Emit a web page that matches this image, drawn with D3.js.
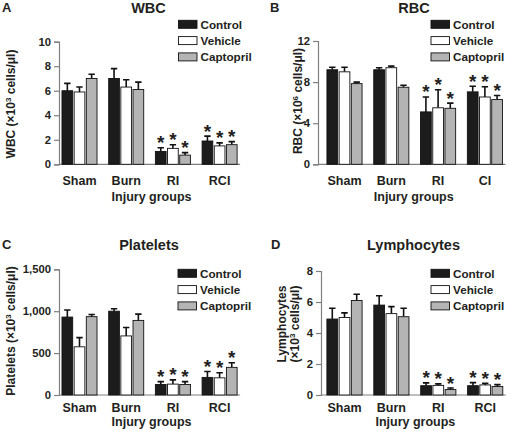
<!DOCTYPE html>
<html><head><meta charset="utf-8">
<script src="https://cdn.jsdelivr.net/npm/d3@7"></script>
<style>body{margin:0;background:#fff}svg{display:block}text{font-family:Arial,"Liberation Sans",sans-serif;font-weight:bold;fill:#231f20}</style>
</head><body>
<svg id="c" width="510" height="431"></svg>
<script>
const series = ["Control", "Vehicle", "Captopril"];
const groupsA = ["Sham", "Burn", "RI", "RCI"];
const groupsB = ["Sham", "Burn", "RI", "CI"];
const groupsC = ["Sham", "Burn", "RI", "RCI"];
const groupsD = ["Sham", "Burn", "RI", "RCI"];

// WBC (x10^3 cells/ul): mean per group [Control, Vehicle, Captopril]
const wbcMean = [[6.0, 5.9, 7.0], [7.0, 6.3, 6.1], [1.05, 1.3, 0.75], [1.9, 1.5, 1.6]];
const wbcErr  = [[0.6, 0.4, 0.35], [0.8, 0.6, 0.6], [0.3, 0.3, 0.2], [0.4, 0.25, 0.25]];
const wbcSig  = [[0, 0, 0], [0, 0, 0], [1, 1, 1], [1, 1, 1]];
const wbcTicks = [0, 2, 4, 6, 8, 10];

// RBC (x10^6 cells/ul)
const rbcMean = [[9.2, 9.0, 7.85], [9.2, 9.4, 7.5], [5.1, 5.5, 5.45], [7.05, 6.55, 6.3]];
const rbcErr  = [[0.25, 0.45, 0.15], [0.2, 0.15, 0.2], [1.45, 1.75, 0.5], [0.55, 1.0, 0.4]];
const rbcSig  = [[0, 0, 0], [0, 0, 0], [1, 1, 1], [1, 1, 1]];
const rbcTicks = [0, 4, 8, 12];

// Platelets (x10^3 cells/ul)
const pltMean = [[930, 575, 935], [1000, 705, 890], [125, 130, 125], [210, 205, 330]];
const pltErr  = [[85, 110, 25], [30, 100, 75], [35, 50, 35], [70, 60, 55]];
const pltSig  = [[0, 0, 0], [0, 0, 0], [1, 1, 1], [1, 1, 1]];
const pltTicks = [0, 500, 1000, 1500];

// Lymphocytes (x10^3 cells/ul)
const lymMean = [[4.9, 5.0, 6.1], [5.8, 5.25, 5.05], [0.6, 0.62, 0.35], [0.6, 0.65, 0.55]];
const lymErr  = [[0.7, 0.3, 0.4], [0.6, 0.45, 0.55], [0.18, 0.1, 0.1], [0.2, 0.1, 0.12]];
const lymSig  = [[0, 0, 0], [0, 0, 0], [1, 1, 1], [1, 1, 1]];
const lymTicks = [0, 2, 4, 6, 8];

const fills = ["#1c1c1c", "#ffffff", "#b4b4b4"];
const axisColor = "#808080";
const svg = d3.select("#c");

function superLabel(sel, pre, sup, post) {
  sel.append("tspan").text(pre);
  sel.append("tspan").attr("dy", -4).attr("font-size", "8px").text(sup);
  sel.append("tspan").attr("dy", 4).text(post);
}

function panel(cfg) {
  const g = svg.append("g");
  const y = d3.scaleLinear().domain([0, cfg.max]).range([cfg.y0, cfg.yTop]);
  const x0 = d3.scaleBand().domain(cfg.groups)
    .range([cfg.c0 - cfg.step / 2, cfg.c0 + 3.5 * cfg.step])
    .paddingInner(0.25).paddingOuter(0.125);
  const x1 = d3.scaleBand().domain(series).range([0, x0.bandwidth()]).paddingInner(0.12);

  // y axis
  const ya = d3.axisLeft(y).tickValues(cfg.ticks).tickSize(5).tickPadding(3)
    .tickFormat(cfg.fmt || d3.format("d"));
  const yg = g.append("g").attr("transform", `translate(${cfg.axisX},0)`).call(ya);
  yg.select(".domain").attr("stroke", axisColor).attr("stroke-width", 1.2);
  yg.selectAll(".tick line").attr("stroke", axisColor).attr("stroke-width", 1.2);
  yg.selectAll(".tick text").attr("font-size", "11.3px").attr("font-family", "Arial, 'Liberation Sans', sans-serif")
    .attr("font-weight", "bold").attr("fill", "#231f20");
  // baseline
  const xEnd = x0(cfg.groups[3]) + x0.bandwidth() + 3;
  g.append("line").attr("x1", cfg.axisX).attr("x2", xEnd).attr("y1", y(0)).attr("y2", y(0))
    .attr("stroke", axisColor).attr("stroke-width", 1.2);

  // bars
  const rows = [];
  cfg.groups.forEach((gr, i) => series.forEach((s, j) => rows.push({
    g: gr, s, j, v: cfg.mean[i][j], e: cfg.err[i][j], sig: cfg.sig[i][j]
  })));
  const bx = d => x0(d.g) + x1(d.s);
  const bw = x1.bandwidth();
  // error bars
  g.selectAll(".err").data(rows).enter().append("path")
    .attr("d", d => `M${bx(d) + bw / 2},${y(d.v)}V${y(d.v + d.e)}M${bx(d) + bw / 2 - 3.2},${y(d.v + d.e)}H${bx(d) + bw / 2 + 3.2}`)
    .attr("stroke", "#111").attr("stroke-width", 1.6).attr("fill", "none");
  g.selectAll(".bar").data(rows).enter().append("rect")
    .attr("x", bx).attr("width", bw)
    .attr("y", d => y(d.v)).attr("height", d => y(0) - y(d.v))
    .attr("fill", d => fills[d.j]).attr("stroke", "#111").attr("stroke-width", 0.9);
  g.selectAll(".star").data(rows.filter(d => d.sig)).enter().append("text")
    .attr("x", d => bx(d) + bw / 2).attr("y", d => y(d.v + d.e) + 1.5)
    .attr("text-anchor", "middle").attr("font-size", "19px").text("*");

  // category labels
  g.selectAll(".cat").data(cfg.groups).enter().append("text")
    .attr("x", d => x0(d) + x0.bandwidth() / 2).attr("y", cfg.catY)
    .attr("text-anchor", "middle").attr("font-size", "12.5px").text(d => d);
  g.append("text").attr("x", (cfg.axisX + xEnd) / 2 + 2).attr("y", cfg.titleXY)
    .attr("text-anchor", "middle").attr("font-size", "12.5px").text("Injury groups");

  // title & letter
  g.append("text").attr("x", cfg.titleX).attr("y", cfg.titleY).attr("text-anchor", "middle")
    .attr("font-size", "14.5px").text(cfg.title);
  g.append("text").attr("x", cfg.letterX).attr("y", cfg.titleY - 1).attr("font-size", "13px").text(cfg.letter);

  // y title
  cfg.ylab.forEach(l => {
    const t = g.append("text").attr("transform", `translate(${l.x},${l.y}) rotate(-90)`)
      .attr("text-anchor", "middle").attr("font-size", "12px");
    if (l.sup) superLabel(t, l.pre, l.sup, l.post); else t.text(l.pre);
  });

  // legend
  series.forEach((s, j) => {
    const ly = cfg.legY + j * 16.3;
    g.append("rect").attr("x", cfg.legX).attr("y", ly - 4).attr("width", 18.5).attr("height", 8)
      .attr("fill", fills[j]).attr("stroke", "#111").attr("stroke-width", 0.9);
    g.append("text").attr("x", cfg.legX + 22).attr("y", ly + 4.3).attr("font-size", "11.7px").text(s);
  });
}

panel({ letter: "A", title: "WBC", groups: groupsA, mean: wbcMean, err: wbcErr, sig: wbcSig, ticks: wbcTicks,
  max: 10, y0: 164.3, yTop: 41.7, axisX: 59, c0: 79.5, step: 46.7, catY: 185, titleXY: 200.5,
  titleX: 148.5, titleY: 13, letterX: 2, legX: 178.5, legY: 24.3,
  ylab: [{ x: 15, y: 104, pre: "WBC (\u00d710", sup: "3", post: " cells/\u03bcl)" }] });

panel({ letter: "B", title: "RBC", groups: groupsB, mean: rbcMean, err: rbcErr, sig: rbcSig, ticks: rbcTicks,
  max: 12, y0: 164.3, yTop: 41, axisX: 318, c0: 344.5, step: 46.8, catY: 185, titleXY: 200.5,
  titleX: 414, titleY: 13, letterX: 270, legX: 431, legY: 24.3,
  ylab: [{ x: 302, y: 101, pre: "RBC (\u00d710", sup: "6", post: " cells/\u03bcl)" }] });

panel({ letter: "C", title: "Platelets", groups: groupsC, mean: pltMean, err: pltErr, sig: pltSig, ticks: pltTicks,
  fmt: d3.format(","),
  max: 1500, y0: 395, yTop: 269.3, axisX: 59, c0: 79.5, step: 46.7, catY: 411.5, titleXY: 425.5,
  titleX: 149, titleY: 250, letterX: 2, legX: 178, legY: 273.3,
  ylab: [{ x: 15, y: 331, pre: "Platelets (\u00d710", sup: "3", post: " cells/\u03bcl)" }] });

panel({ letter: "D", title: "Lymphocytes", groups: groupsD, mean: lymMean, err: lymErr, sig: lymSig, ticks: lymTicks,
  max: 8, y0: 395, yTop: 271, axisX: 321, c0: 344.5, step: 46.9, catY: 411.5, titleXY: 425.5,
  titleX: 413.5, titleY: 250, letterX: 271, legX: 431, legY: 273.3,
  ylab: [{ x: 285.5, y: 324, pre: "Lymphocytes" },
         { x: 299, y: 324, pre: "(\u00d710", sup: "3", post: " cells/\u03bcl)" }] });
</script>
</body></html>
